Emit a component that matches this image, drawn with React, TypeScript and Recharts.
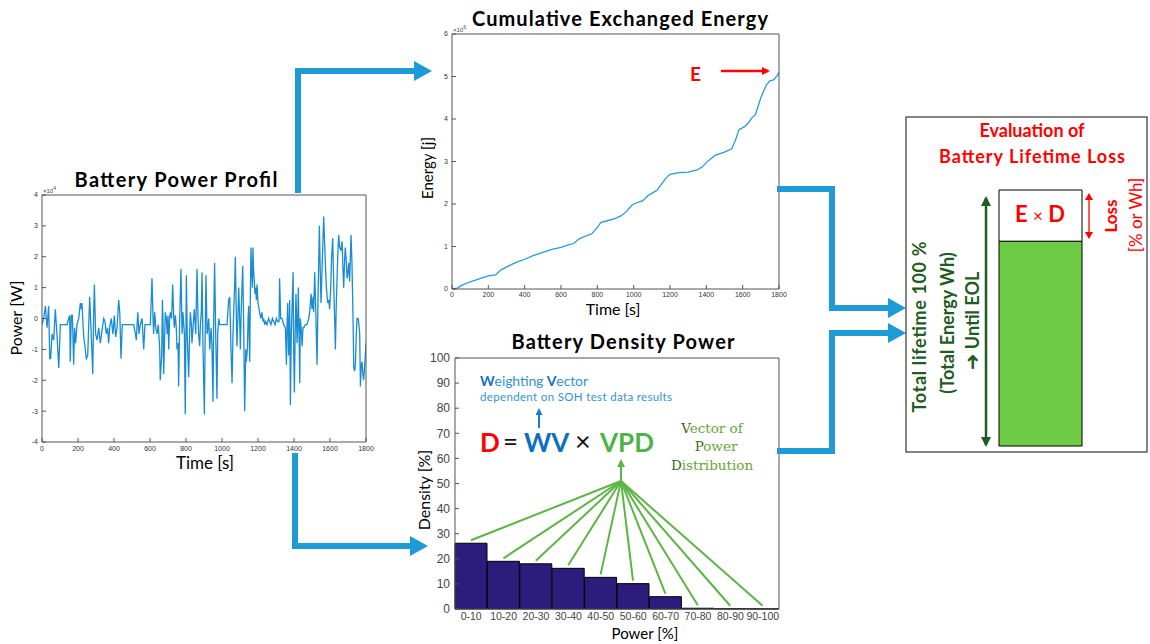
import React from 'react';
import { LineChart, Line, XAxis, YAxis, BarChart, Bar, LabelList } from 'recharts';

const W = 1150;
const H = 644;

// Battery power profile: time [s], power [x10^4 W]
const powerTime = [
  0, 9, 19, 28, 37, 43, 48, 56, 65, 74, 83, 93, 102, 139, 148, 154, 157, 163, 169, 176, 181, 187, 194, 204,
  213, 219, 222, 228, 232, 239, 246, 254, 259, 265, 272, 282, 287, 291, 298, 306, 315, 324, 333, 343, 350,
  357, 365, 370, 378, 385, 394, 402, 409, 417, 426, 432, 439, 446, 509, 519, 524, 532, 539, 546, 556, 565,
  572, 602, 611, 617, 620, 626, 632, 639, 646, 654, 657, 665, 669, 672, 676, 682, 685, 691, 695, 700, 704,
  709, 713, 720, 726, 732, 735, 741, 746, 750, 756, 759, 765, 772, 778, 783, 791, 796, 802, 807, 815, 820,
  824, 830, 833, 839, 846, 854, 861, 867, 870, 876, 880, 885, 889, 894, 902, 907, 911, 917, 920, 926, 932,
  939, 944, 950, 954, 959, 965, 972, 976, 982, 987, 1028, 1037, 1043, 1046, 1050, 1056, 1061, 1065, 1070,
  1074, 1080, 1083, 1089, 1093, 1098, 1102, 1107, 1115, 1120, 1126, 1132, 1135, 1141, 1145, 1148, 1154,
  1157, 1161, 1165, 1169, 1172, 1176, 1180, 1183, 1187, 1191, 1195, 1200, 1206, 1209, 1215, 1222, 1228,
  1232, 1237, 1243, 1250, 1259, 1265, 1272, 1280, 1287, 1295, 1302, 1309, 1317, 1320, 1326, 1333, 1343,
  1352, 1358, 1361, 1365, 1370, 1376, 1380, 1385, 1389, 1395, 1398, 1402, 1407, 1411, 1417, 1420, 1424,
  1428, 1432, 1435, 1441, 1445, 1450, 1454, 1463, 1472, 1482, 1487, 1495, 1500, 1506, 1509, 1515, 1520,
  1528, 1533, 1541, 1546, 1550, 1558, 1565, 1570, 1576, 1580, 1587, 1593, 1598, 1604, 1609, 1615, 1621,
  1626, 1630, 1635, 1643, 1648, 1654, 1661, 1667, 1672, 1676, 1682, 1685, 1691, 1695, 1700, 1704, 1709,
  1717, 1722, 1728, 1732, 1737, 1741, 1746, 1750, 1756, 1759, 1765, 1769, 1774, 1778, 1783, 1787, 1793, 1800,
];
const powerValue = [
  -0.2, 0.0, 0.4, -0.3, 0.4, -1.3, -1.3, -0.5, -0.7, 0.3, -0.5, -1.6, -0.2, -0.2, 0.0, 0.1, -1.4, 0.1, 0.1,
  -1.5, -0.3, -0.8, -0.2, 0.0, 0.5, 0.3, 0.5, -0.2, -0.6, -0.9, -1.3, -1.2, -0.3, 0.7, -0.3, -1.8, 0.2, 1.1,
  -0.5, -0.7, -0.3, -0.8, -0.4, 0.0, -0.1, -0.5, -0.3, -0.8, -0.2, 0.0, -0.5, 0.1, -0.6, -0.3, 0.6, 0.2,
  -1.3, -0.2, -0.2, -0.5, -0.7, 0.2, -0.5, -0.2, 0.0, -1.0, -0.2, -0.2, 1.3, 0.0, -0.5, 0.2, -0.3, -0.5,
  -0.2, -1.0, -2.0, -1.2, 0.6, 0.0, -1.8, -0.5, 0.2, 0.0, -0.5, 0.1, -1.0, 0.0, 0.2, 0.0, 1.1, 0.0, -0.3,
  0.1, -0.3, -1.0, -0.8, -2.2, 0.0, 1.6, -0.5, 0.2, -0.5, -3.1, 1.4, -0.6, -1.9, -0.5, 0.2, -0.2, -0.8,
  -0.3, 0.3, -0.5, 1.6, 0.0, -0.5, -0.9, -0.2, 0.2, 1.5, -0.8, -3.1, -0.3, 1.4, -0.5, -0.4, 0.0, -1.0,
  -0.3, -0.8, -2.7, 0.0, 1.8, -0.5, -2.6, -0.5, 0.0, -0.2, -0.2, 0.6, 0.7, 0.0, -1.0, -2.1, -0.5, 0.2, 1.0,
  2.0, 0.0, -0.9, 0.2, 1.0, 0.0, -1.0, 0.3, 1.7, 0.0, -3.0, -1.0, -1.4, -1.0, 0.0, 0.4, -1.4, 0.5, 2.3,
  1.5, 1.0, 2.3, 1.5, 1.2, 0.8, 1.0, 0.6, 1.1, 0.5, 0.3, 0.2, 0.0, 0.2, -0.1, 0.0, -0.2, -0.1, -0.2, 0.0,
  -0.1, -0.2, 0.0, -0.1, -0.2, 0.0, -0.1, -0.1, 1.3, 0.0, 0.0, -0.2, -0.3, -1.5, -0.3, 0.5, -1.2, 0.6,
  -2.8, -0.5, 0.3, 1.5, -1.0, -2.4, -0.3, 0.8, -0.8, -0.3, 1.0, -0.5, -2.1, 0.0, -0.4, -0.9, -0.3, -0.3,
  -0.2, -0.2, 0.0, 0.2, 0.8, 0.3, 0.7, 0.2, 1.5, 0.5, -1.5, 0.5, 3.0, 1.5, 0.5, 2.0, 3.3, 2.5, 1.5, 1.0,
  0.5, 0.6, 0.3, 1.0, 2.0, 2.6, 1.0, 0.0, -1.0, 0.5, 2.0, 2.7, 2.3, 2.2, 2.5, 1.6, 1.0, 2.0, 2.3, 1.8,
  1.3, 1.5, 1.8, 1.2, 2.7, 1.8, 0.0, -1.6, -1.7, -1.5, -0.5, 0.0, 0.0, -0.1, -0.5, -2.2, -1.5, -1.4,
  -1.8, -2.0, -1.5, -0.8, -0.5,
];
const timeTicks = [0, 200, 400, 600, 800, 1000, 1200, 1400, 1600, 1800];
const powerTicks = [-4, -3, -2, -1, 0, 1, 2, 3, 4];

// Cumulative exchanged energy: time [s], energy [x10^6 J]
const energyTime = [
  0, 30, 50, 100, 150, 200, 240, 270, 300, 350, 400, 450, 500, 550, 600, 650, 670, 700, 750, 770, 800,
  820, 850, 900, 930, 960, 990, 1000, 1050, 1080, 1100, 1130, 1150, 1180, 1200, 1250, 1300, 1350, 1380,
  1400, 1450, 1500, 1540, 1560, 1580, 1610, 1630, 1650, 1670, 1700, 1730, 1750, 1770, 1790, 1800,
];
const energyValue = [
  0, 0.02, 0.08, 0.17, 0.24, 0.31, 0.33, 0.45, 0.52, 0.62, 0.7, 0.79, 0.86, 0.93, 0.98, 1.05, 1.07, 1.18,
  1.27, 1.3, 1.45, 1.57, 1.6, 1.66, 1.72, 1.82, 1.97, 2.0, 2.08, 2.2, 2.25, 2.33, 2.45, 2.62, 2.7, 2.74,
  2.75, 2.8, 2.88, 2.98, 3.15, 3.22, 3.3, 3.5, 3.75, 3.82, 3.9, 4.02, 4.1, 4.5, 4.8, 4.9, 4.92, 5.02, 5.1,
];
const energyTicks = [0, 1, 2, 3, 4, 5, 6];

// Battery density power
const densityBins = ['0-10', '10-20', '20-30', '30-40', '40-50', '50-60', '60-70', '70-80', '80-90', '90-100'];
const densityValue = [26.2, 19, 18, 16.2, 12.6, 10.1, 4.9, 0.3, 0.1, 0.05];
const densityTicks = [0, 10, 20, 30, 40, 50, 60, 70, 80, 90, 100];

// Lifetime evaluation bar [%]
const lifetimeRemaining = [80];
const lifetimeLoss = [20];

const powerData = powerTime.map((t, i) => ({ t, p: powerValue[i] }));
const energyData = energyTime.map((t, i) => ({ t, e: energyValue[i] }));
const densityData = densityBins.map((bin, i) => ({ bin, d: densityValue[i] }));
const lifetimeData = lifetimeRemaining.map((r, i) => ({ k: 'life', rest: r, loss: lifetimeLoss[i] }));

const blue = '#1e9bd7';
const lineBlue = '#1a8cd3';
const red = '#ff0000';
const darkGreen = '#1f5c1f';
const vpdGreen = '#5db544';
const axisColor = '#555';
const calibri = 'Lato, "Open Sans", sans-serif';
const tinyTick = { fontSize: 7, fill: '#333', fontFamily: 'Liberation Sans, Arial, sans-serif' };
const abs: React.CSSProperties = { position: 'absolute', left: 0, top: 0 };

const hub = { x: 621, y: 481 };

function VpdLink(props: any) {
  const vb = props.viewBox || props;
  const x = Number(vb.x);
  const y = Number(vb.y);
  const w = Number(vb.width);
  const h = Number(vb.height) || 0;
  const top = Math.min(y, y + h);
  return <line x1={hub.x} y1={hub.y} x2={x + w / 2} y2={top - 3} stroke={vpdGreen} strokeWidth={2} />;
}

function Arrow({ pts, head }: { pts: string; head: string }) {
  return (
    <g>
      <polyline points={pts} fill="none" stroke={blue} strokeWidth={6} strokeLinejoin="miter" />
      <polygon points={head} fill={blue} />
    </g>
  );
}

export default function App() {
  return (
    <div style={{ ...abs, width: W, height: H, background: '#fff', overflow: 'hidden' }}>
      {/* Battery power profile */}
      <div style={abs}>
        <LineChart width={W} height={H} data={powerData} margin={{ top: 194, right: 783, bottom: 201, left: 41 }}>
          <XAxis dataKey="t" type="number" domain={[0, 1800]} ticks={timeTicks} interval={0} height={1}
            tickSize={-4} tickMargin={8} tick={tinyTick} stroke={axisColor} allowDataOverflow />
          <XAxis xAxisId="top" orientation="top" dataKey="t" type="number" domain={[0, 1800]} ticks={timeTicks}
            interval={0} height={1} tickSize={-4} tick={false} stroke={axisColor} allowDataOverflow />
          <YAxis type="number" domain={[-4, 4]} ticks={powerTicks} interval={0} width={1} tickSize={-4}
            tickMargin={8} tick={tinyTick} stroke={axisColor} allowDataOverflow />
          <YAxis yAxisId="right" orientation="right" type="number" domain={[-4, 4]} ticks={powerTicks}
            interval={0} width={1} tickSize={-4} tick={false} stroke={axisColor} allowDataOverflow />
          <Line dataKey="p" type="linear" stroke={lineBlue} strokeWidth={1.3} dot={false} isAnimationActive={false} />
        </LineChart>
      </div>

      {/* Cumulative exchanged energy */}
      <div style={abs}>
        <LineChart width={W} height={H} data={energyData} margin={{ top: 33, right: 370, bottom: 354, left: 451 }}>
          <XAxis dataKey="t" type="number" domain={[0, 1800]} ticks={timeTicks} interval={0} height={1}
            tickSize={-4} tickMargin={7} tick={tinyTick} stroke={axisColor} allowDataOverflow />
          <XAxis xAxisId="top" orientation="top" dataKey="t" type="number" domain={[0, 1800]} ticks={timeTicks}
            interval={0} height={1} tickSize={-4} tick={false} stroke={axisColor} allowDataOverflow />
          <YAxis type="number" domain={[0, 6]} ticks={energyTicks} interval={0} width={1} tickSize={-4}
            tickMargin={8} tick={tinyTick} stroke={axisColor} allowDataOverflow />
          <YAxis yAxisId="right" orientation="right" type="number" domain={[0, 6]} ticks={energyTicks}
            interval={0} width={1} tickSize={-4} tick={false} stroke={axisColor} allowDataOverflow />
          <Line dataKey="e" type="linear" stroke="#2a9ad8" strokeWidth={1.3} dot={false} isAnimationActive={false} />
        </LineChart>
      </div>

      {/* Battery density power */}
      <div style={abs}>
        <BarChart width={W} height={H} data={densityData} barCategoryGap={0}
          margin={{ top: 357, right: 370, bottom: 34, left: 454 }}>
          <XAxis dataKey="bin" interval={0} height={1} tickSize={0} tickMargin={4} tickLine={false}
            tick={{ fontSize: 10.5, fill: '#444', fontFamily: 'Liberation Sans, Arial, sans-serif' }} stroke={axisColor} />
          <XAxis xAxisId="top" orientation="top" dataKey="bin" interval={0} height={1} tickLine={false}
            tick={false} stroke={axisColor} />
          <YAxis type="number" domain={[0, 100]} ticks={densityTicks} interval={0} width={1} tickSize={-4}
            tickMargin={9} tick={{ fontSize: 12, fill: '#444', fontFamily: 'Liberation Sans, Arial, sans-serif' }}
            stroke={axisColor} />
          <YAxis yAxisId="right" orientation="right" type="number" domain={[0, 100]} ticks={densityTicks}
            interval={0} width={1} tickSize={-4} tick={false} stroke={axisColor} />
          <Bar dataKey="d" fill="#2c1d7c" stroke="#000" strokeWidth={1} isAnimationActive={false}>
            <LabelList dataKey="d" content={VpdLink} />
          </Bar>
        </BarChart>
      </div>

      {/* Lifetime evaluation bar */}
      <div style={abs}>
        <BarChart width={W} height={H} data={lifetimeData} barCategoryGap={0}
          margin={{ top: 190, right: 68, bottom: 198, left: 999 }}>
          <XAxis dataKey="k" hide />
          <YAxis type="number" domain={[0, 100]} hide />
          <Bar dataKey="rest" stackId="a" fill="#6ecb45" stroke="#000" strokeWidth={1} isAnimationActive={false} />
          <Bar dataKey="loss" stackId="a" fill="#fff" stroke="#000" strokeWidth={1} isAnimationActive={false} />
        </BarChart>
      </div>

      {/* Annotations */}
      <svg width={W} height={H} style={{ ...abs, pointerEvents: 'none' }}>
        <defs>
          <marker id="redHead" markerWidth="8" markerHeight="8" refX="6" refY="4" orient="auto" markerUnits="userSpaceOnUse">
            <path d="M0,0 L8,4 L0,8 z" fill={red} />
          </marker>
          <marker id="redHeadS" markerWidth="7" markerHeight="8" refX="6" refY="4" orient="auto-start-reverse" markerUnits="userSpaceOnUse">
            <path d="M0,0 L7,4 L0,8 z" fill={red} />
          </marker>
          <marker id="greenHead" markerWidth="10" markerHeight="10" refX="8" refY="5" orient="auto-start-reverse" markerUnits="userSpaceOnUse">
            <path d="M0,0 L10,5 L0,10 z" fill={darkGreen} />
          </marker>
          <marker id="vpdHead" markerWidth="8" markerHeight="8" refX="6" refY="4" orient="auto" markerUnits="userSpaceOnUse">
            <path d="M0,0 L8,4 L0,8 z" fill={vpdGreen} />
          </marker>
          <marker id="wvHead" markerWidth="7" markerHeight="7" refX="5" refY="3.5" orient="auto" markerUnits="userSpaceOnUse">
            <path d="M0,0 L7,3.5 L0,7 z" fill="#1a7cc8" />
          </marker>
        </defs>

        {/* flow arrows */}
        <Arrow pts="298,193 298,71 414,71" head="414,61 432,71 414,81" />
        <Arrow pts="295,453 295,546 410,546" head="410,536 428,546 410,556" />
        <Arrow pts="777,189 832,189 832,308 888,308" head="888,298 906,308 888,318" />
        <Arrow pts="777,451 832,451 832,333 888,333" head="888,323 906,333 888,343" />

        {/* power chart texts */}
        <text x={176} y={187} textAnchor="middle" fontFamily={calibri} fontWeight="bold" fontSize={20} textLength={203}>Battery Power Profil</text>
        <text x={43} y={193} fontFamily="Liberation Sans, Arial" fontSize={6} fill="#444">×10<tspan dy={-3} fontSize={5}>4</tspan></text>
        <text transform="translate(22,318) rotate(-90)" textAnchor="middle" fontFamily={calibri} fontSize={16}>Power [W]</text>
        <text x={205} y={469} textAnchor="middle" fontFamily={calibri} fontSize={17}>Time [s]</text>

        {/* energy chart texts */}
        <text x={620} y={26} textAnchor="middle" fontFamily={calibri} fontWeight="bold" fontSize={20} textLength={296}>Cumulative Exchanged Energy</text>
        <text x={453} y={32} fontFamily="Liberation Sans, Arial" fontSize={6} fill="#444">×10<tspan dy={-3} fontSize={5}>6</tspan></text>
        <text transform="translate(433,168) rotate(-90)" textAnchor="middle" fontFamily={calibri} fontSize={15}>Energy [j]</text>
        <text x={613} y={315} textAnchor="middle" fontFamily={calibri} fontSize={16}>Time [s]</text>
        <text x={690} y={81} fontFamily={calibri} fontWeight="bold" fontSize={19} fill={red}>E</text>
        <line x1={721} y1={71} x2={768} y2={71} stroke={red} strokeWidth={2.5} markerEnd="url(#redHead)" />

        {/* density chart texts */}
        <text x={623} y={349} textAnchor="middle" fontFamily={calibri} fontWeight="bold" fontSize={20} textLength={223}>Battery Density Power</text>
        <text transform="translate(430,490) rotate(-90)" textAnchor="middle" fontFamily={calibri} fontSize={16}>Density [%]</text>
        <text x={645} y={639} textAnchor="middle" fontFamily={calibri} fontSize={15}>Power [%]</text>

        <text x={480} y={386} fontFamily={calibri} fontSize={14} fill="#3592d4" textLength={108}>
          <tspan fontWeight="bold" fill="#1a6fc0">W</tspan>eighting <tspan fontWeight="bold" fill="#1a6fc0">V</tspan>ector
        </text>
        <text x={480} y={401} fontFamily={calibri} fontSize={11.5} fill="#3592d4" textLength={192}>dependent on SOH test data results</text>
        <line x1={539} y1={428} x2={539} y2={410} stroke="#1a7cc8" strokeWidth={2} markerEnd="url(#wvHead)" />
        <text x={480} y={452} fontFamily={calibri} fontWeight="bold" fontSize={26} fill={red}>D</text>
        <text x={503} y={451} fontFamily={calibri} fontSize={26} fill="#111">=</text>
        <text x={524} y={452} fontFamily={calibri} fontWeight="bold" fontSize={26} fill="#0a70c2">WV</text>
        <text x={575} y={451} fontFamily={calibri} fontSize={27} fill="#111">×</text>
        <text x={600} y={452} fontFamily={calibri} fontWeight="bold" fontSize={26} fill="#4fb248">VPD</text>
        <line x1={hub.x} y1={hub.y} x2={hub.x} y2={461} stroke={vpdGreen} strokeWidth={2} markerEnd="url(#vpdHead)" />
        <g fontFamily='"DejaVu Serif", "Liberation Serif", serif' fontSize={13.5} fill="#62a83a" textAnchor="middle">
          <text x={712} y={433}><tspan fill="#3a6a1c">V</tspan>ector of</text>
          <text x={716} y={451}><tspan fill="#3a6a1c">P</tspan>ower</text>
          <text x={712} y={470}><tspan fill="#3a6a1c">D</tspan>istribution</text>
        </g>

        {/* lifetime evaluation box */}
        <rect x={906} y={117} width={241} height={335} fill="none" stroke="#333" strokeWidth={1.2} />
        <text x={1032} y={137} textAnchor="middle" fontFamily={calibri} fontWeight="bold" fontSize={18} fill={red}>Evaluation of</text>
        <text x={1032} y={163} textAnchor="middle" fontFamily={calibri} fontWeight="bold" fontSize={18} fill={red} textLength={186}>Battery Lifetime Loss</text>
        <text x={1040} y={222} textAnchor="middle" fontFamily={calibri} fontWeight="bold" fontSize={22} fill={red}>
          E <tspan fontWeight="normal" fontSize={17}>×</tspan> D
        </text>
        <line x1={1089} y1={194} x2={1089} y2={238} stroke={red} strokeWidth={1.3} markerStart="url(#redHeadS)" markerEnd="url(#redHeadS)" />
        <text transform="translate(1110,216) rotate(-90)" textAnchor="middle" dominantBaseline="central" fontFamily={calibri} fontWeight="bold" fontSize={17} fill={red}>Loss</text>
        <text transform="translate(1135,215) rotate(-90)" textAnchor="middle" dominantBaseline="central" fontFamily={calibri} fontSize={17} fill={red}>[% or Wh]</text>

        <line x1={986} y1={198} x2={986} y2={445} stroke={darkGreen} strokeWidth={2.5} markerStart="url(#greenHead)" markerEnd="url(#greenHead)" />
        <g fontFamily={calibri} fontWeight="bold" fontSize={18} fill={darkGreen} textAnchor="middle" dominantBaseline="central">
          <text transform="translate(919,327) rotate(-90)" textLength={171}>Total lifetime 100 %</text>
          <text transform="translate(947,323) rotate(-90)">(Total Energy Wh)</text>
          <text transform="translate(972,321) rotate(-90)">
            <tspan fontFamily='"DejaVu Sans", sans-serif' fontSize={20}>➜</tspan> Until EOL
          </text>
        </g>
      </svg>
    </div>
  );
}
